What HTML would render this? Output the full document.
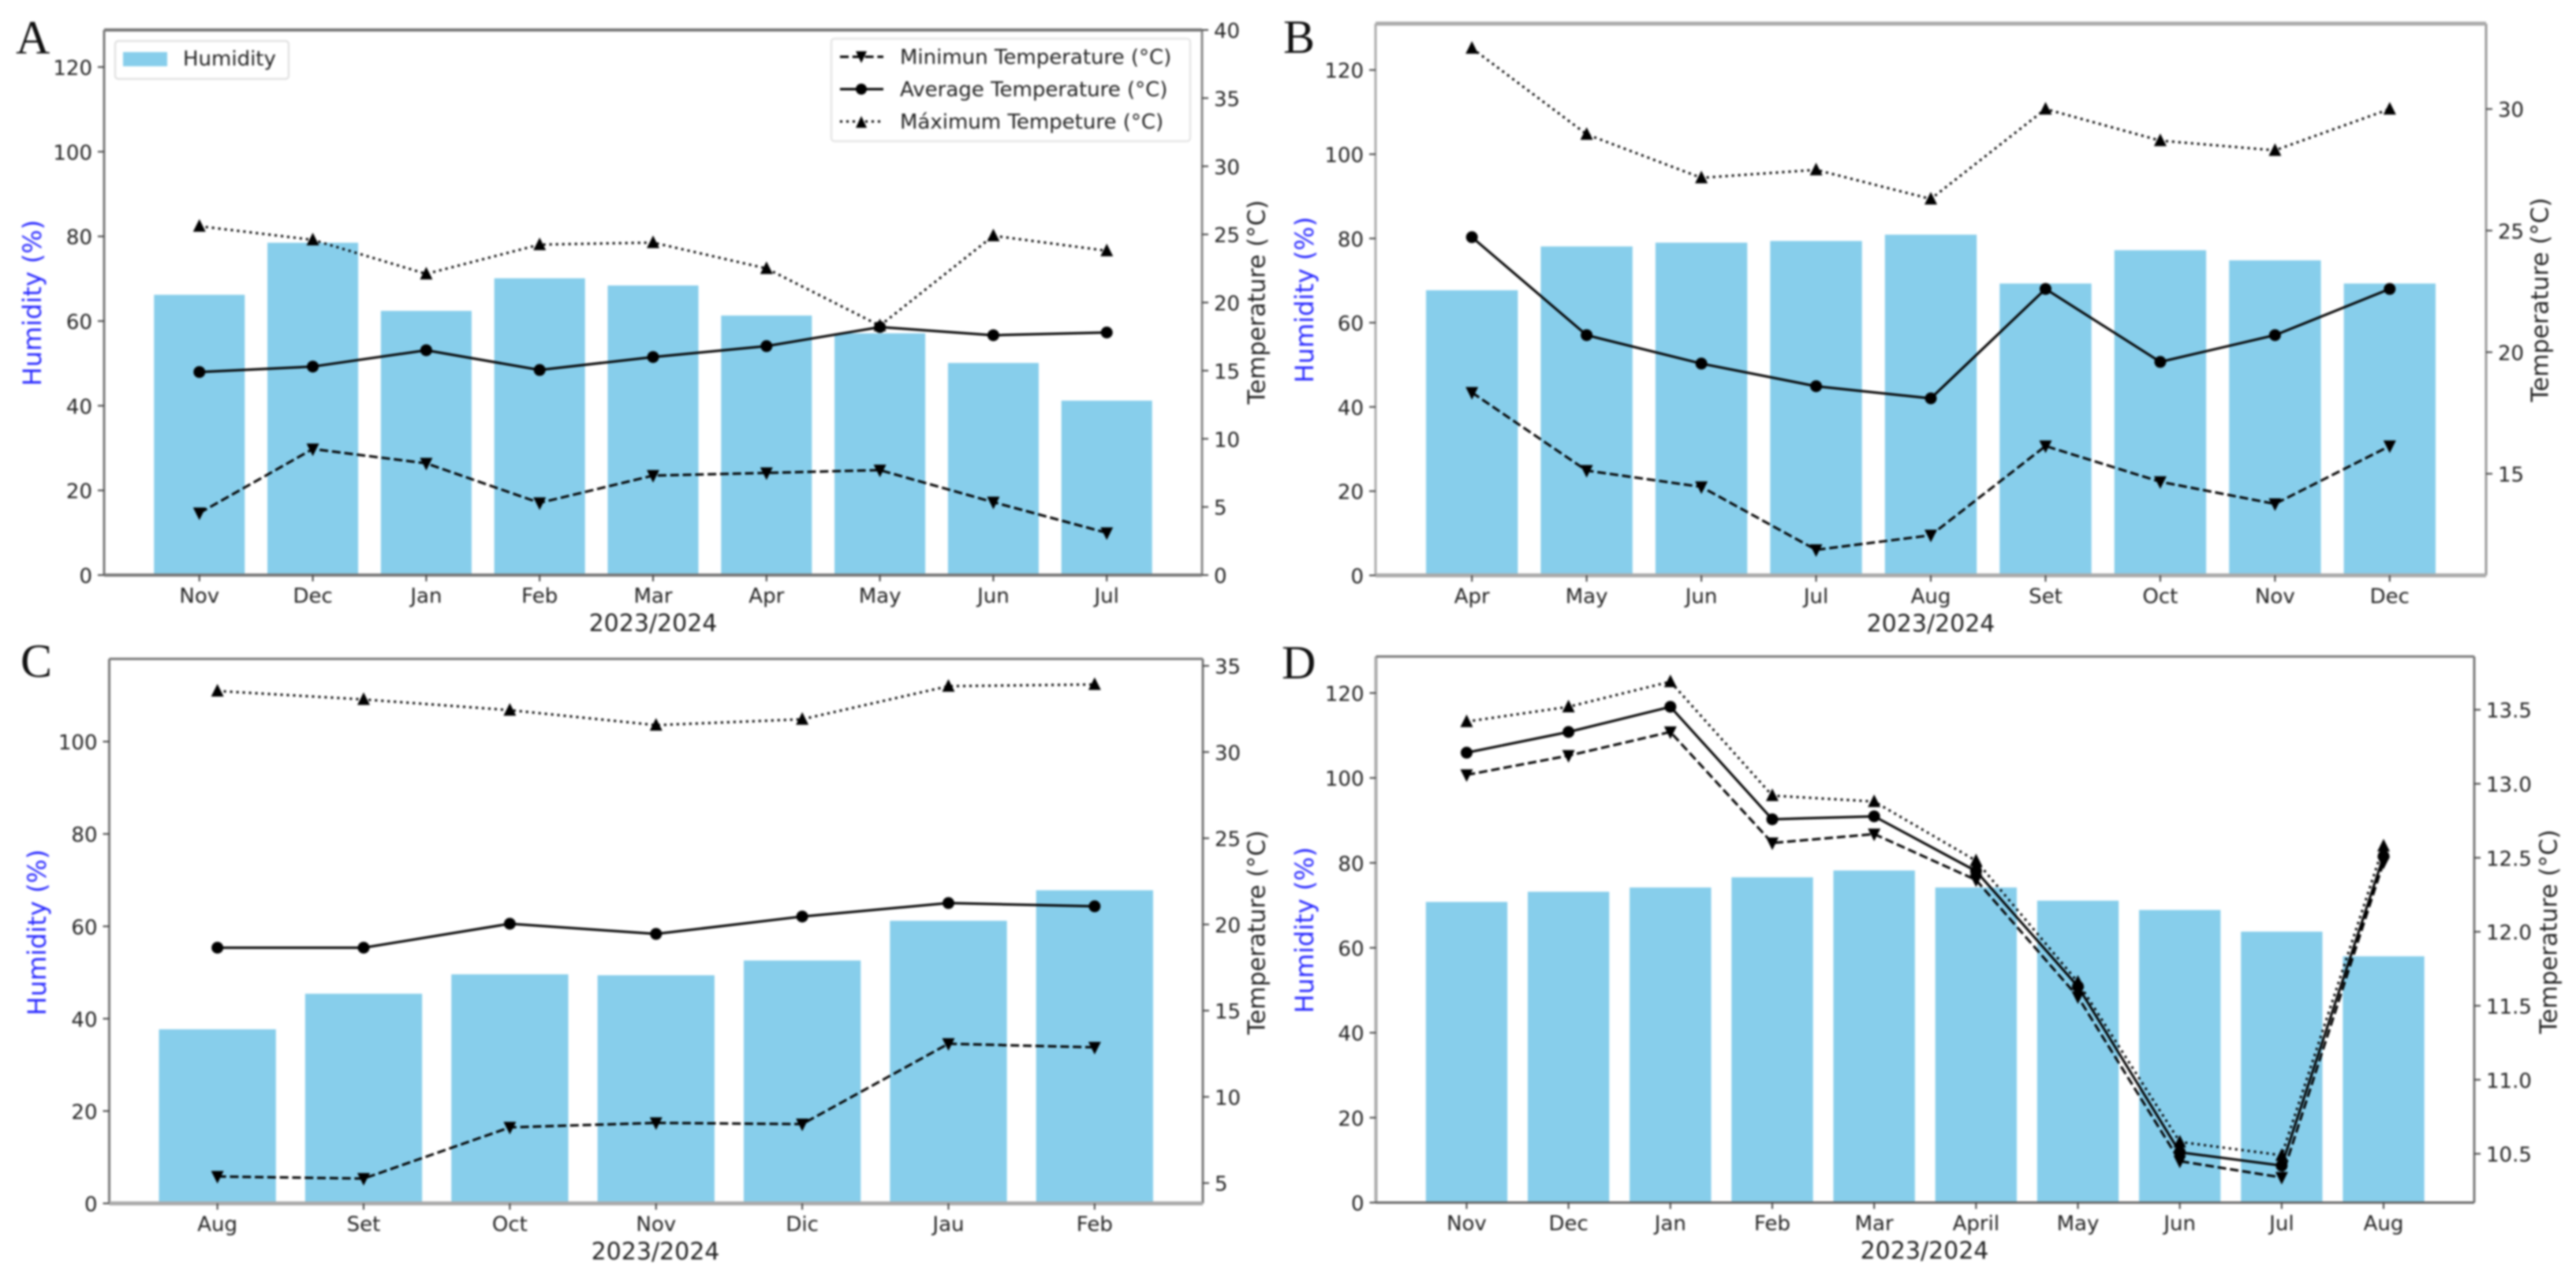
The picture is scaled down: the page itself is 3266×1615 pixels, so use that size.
<!DOCTYPE html>
<html>
<head>
<meta charset="utf-8">
<title>Humidity and temperature panels</title>
<style>
html,body{margin:0;padding:0;background:#fff;width:3266px;height:1615px;overflow:hidden}
svg{display:block;filter:blur(1.2px)}
text{font-family:"DejaVu Sans","Liberation Sans",sans-serif;fill:#222}
.tick{font-size:26px}
.axis{font-size:30px}
.leg{font-size:26px}
.letter{font-family:"Liberation Serif",serif;font-size:60px;fill:#111}
</style>
</head>
<body>
<svg id="chart" xmlns="http://www.w3.org/2000/svg" width="3266" height="1615" viewBox="0 0 3266 1615">
  <rect width="3266" height="1615" fill="#fff"/>
  <g id="panels"></g>
  <text class="letter" x="20" y="68">A</text>
  <text class="letter" x="1627" y="67">B</text>
  <text class="letter" x="26" y="858">C</text>
  <text class="letter" x="1625" y="860">D</text>

  <g>
    <rect x="146" y="52" width="220" height="48" rx="4" fill="#fff" stroke="#e2e2e2" stroke-width="2.5"/>
    <rect x="156" y="66" width="56" height="18" fill="#87CEEB"/>
    <text class="leg" x="232" y="83">Humidity</text>
  </g>
  <g>
    <rect x="1054" y="49" width="455" height="130" rx="4" fill="#fff" stroke="#e6e6e6" stroke-width="2.5"/>
    <line x1="1065" x2="1120" y1="72" y2="72" stroke="#000" stroke-width="3" stroke-dasharray="11,4.8"/>
    <path d="M1085,65 L1099,65 L1092,80 Z" fill="#000"/>
    <text class="leg" x="1141" y="81">Minimun Temperature (°C)</text>
    <line x1="1065" x2="1120" y1="113" y2="113" stroke="#000" stroke-width="3"/>
    <circle cx="1092" cy="113" r="7" fill="#000"/>
    <text class="leg" x="1141" y="122">Average Temperature (°C)</text>
    <line x1="1065" x2="1120" y1="154" y2="154" stroke="#000" stroke-width="3" stroke-dasharray="3,5"/>
    <path d="M1085,162 L1099,162 L1092,147 Z" fill="#000"/>
    <text class="leg" x="1141" y="163">Máximum Tempeture (°C)</text>
  </g>
</svg>
<script>
// Panel A data
const aMonths = ["Nov","Dec","Jan","Feb","Mar","Apr","May","Jun","Jul"];
const aHumidity = [66.2,78.5,62.4,70.1,68.4,61.3,57.1,50.1,41.2];
const aMinTemp = [4.55,9.25,8.2,5.3,7.3,7.5,7.7,5.35,3.1];
const aAvgTemp = [14.9,15.3,16.5,15.05,16.0,16.8,18.2,17.6,17.8];
const aMaxTemp = [25.6,24.6,22.1,24.25,24.4,22.5,18.3,24.9,23.8];
const aHumTicks = [0,20,40,60,80,100,120];
const aTempTicks = ["0","5","10","15","20","25","30","35","40"];

// Panel B data
const bMonths = ["Apr","May","Jun","Jul","Aug","Set","Oct","Nov","Dec"];
const bHumidity = [67.7,78.1,79.0,79.4,80.9,69.3,77.2,74.8,69.3];
const bMinTemp = [18.34,15.13,14.46,11.87,12.47,16.14,14.67,13.76,16.14];
const bAvgTemp = [24.73,20.7,19.53,18.6,18.1,22.6,19.6,20.7,22.6];
const bMaxTemp = [32.5,28.96,27.17,27.5,26.3,30,28.7,28.3,30];
const bHumTicks = [0,20,40,60,80,100,120];
const bTempTicks = ["15","20","25","30"];

// Panel C data
const cMonths = ["Aug","Set","Oct","Nov","Dic","Jau","Feb"];
const cHumidity = [37.7,45.4,49.6,49.4,52.6,61.2,67.8];
const cMinTemp = [5.38,5.26,8.23,8.49,8.42,13.08,12.87];
const cAvgTemp = [18.65,18.65,20.04,19.45,20.46,21.24,21.05];
const cMaxTemp = [33.54,33.05,32.43,31.56,31.9,33.82,33.92];
const cHumTicks = [0,20,40,60,80,100];
const cTempTicks = ["5","10","15","20","25","30","35"];

// Panel D data
const dMonths = ["Nov","Dec","Jan","Feb","Mar","April","May","Jun","Jul","Aug"];
const dHumidity = [70.8,73.2,74.2,76.6,78.2,74.2,71.1,68.9,63.8,58.0];
const dMinTemp = [13.06,13.19,13.35,12.60,12.66,12.35,11.56,10.45,10.34,12.47];
const dAvgTemp = [13.21,13.35,13.52,12.76,12.78,12.41,11.63,10.51,10.42,12.51];
const dMaxTemp = [13.42,13.52,13.69,12.92,12.88,12.48,11.66,10.58,10.49,12.58];
const dHumTicks = [0,20,40,60,80,100,120];
const dTempTicks = ["10.5","11.0","11.5","12.0","12.5","13.0","13.5"];

const SVGNS = "http://www.w3.org/2000/svg";
const root = document.getElementById("panels");

function mk(parent, tag, attrs, txt) {
  const el = document.createElementNS(SVGNS, tag);
  for (const k in attrs) el.setAttribute(k, attrs[k]);
  if (txt !== undefined) el.textContent = txt;
  parent.appendChild(el);
  return el;
}

function drawPanel(p) {
  const g = mk(root, "g", {});
  
  

  const n = p.months.length;
  const span = (n - 1 + 0.8) * 1.1;
  const xMin = -0.4 - 0.05 * (n - 1 + 0.8);
  const xScale = i => p.left + (i - xMin) * (p.right - p.left) / span;
  const yHum = v => p.bottom - v / p.humMax * (p.bottom - p.top);
  const yTemp = v => p.bottom - (v - p.tempMin) / (p.tempMax - p.tempMin) * (p.bottom - p.top);
  const barW = 0.8 * (p.right - p.left) / span;

  // bars
  p.humidity.forEach((v, i) => {
    const bar = mk(g, "rect", {x: xScale(i) - barW / 2, y: yHum(v), width: barW, height: yHum(0) - yHum(v), fill: "#87CEEB"});
    
    
  });

  // spines
  const spines = [
    ["left-spine", p.left, p.top, p.left, p.bottom, p.leftColor, p.leftWidth],
    ["right-spine", p.right, p.top, p.right, p.bottom, p.rightColor, 3],
    ["top-spine", p.left, p.top, p.right, p.top, p.topColor, p.topWidth],
    ["bottom-spine", p.left, p.bottom, p.right, p.bottom, p.bottomColor, p.bottomWidth]
  ];
  spines.forEach(s => {
    const sp = mk(g, "line", {x1: s[1], y1: s[2], x2: s[3], y2: s[4], stroke: s[5], "stroke-width": s[6]});
    
    
  });

  // x axis
  p.months.forEach((m, i) => {
    const t = mk(g, "line", {x1: xScale(i), x2: xScale(i), y1: p.bottom, y2: p.bottom + 8, stroke: "#444", "stroke-width": 2});
    
    
    const l = mk(g, "text", {class: "tick", x: xScale(i), y: p.bottom + 35, "text-anchor": "middle"}, m);
    
    
  });
  const xt = mk(g, "text", {class: "axis", x: p.xTitleX, y: p.bottom + 71, "text-anchor": "middle"}, "2023/2024");
  
  

  // left axis
  p.humTicks.forEach(v => {
    const y = yHum(v);
    const t = mk(g, "line", {x1: p.left - 8, x2: p.left, y1: y, y2: y, stroke: "#444", "stroke-width": 2});
    
    
    const l = mk(g, "text", {class: "tick", x: p.left - 15, y: y + 10, "text-anchor": "end"}, String(v));
    
    
  });
  const yt = mk(g, "text", {class: "axis", transform: "translate(" + p.humTitleX + "," + p.humTitleY + ") rotate(-90)", "text-anchor": "middle", "dominant-baseline": "central", style: "fill:#2a2aff;font-size:32px"}, "Humidity (%)");
  
  

  // right axis
  p.tempTicks.forEach(lbl => {
    const y = yTemp(parseFloat(lbl));
    const t = mk(g, "line", {x1: p.right, x2: p.right + 8, y1: y, y2: y, stroke: "#444", "stroke-width": 2});
    
    
    const l = mk(g, "text", {class: "tick", x: p.right + 15, y: y + 10, "text-anchor": "start"}, lbl);
    
    
  });
  const rt = mk(g, "text", {class: "axis", transform: "translate(" + p.tempTitleX + "," + p.tempTitleY + ") rotate(-90)", "text-anchor": "middle", "dominant-baseline": "central"}, "Temperature (°C)");
  
  

  // series
  const series = [
    {key: "min", vals: p.minTemp, dash: "11,4.8"},
    {key: "avg", vals: p.avgTemp, dash: "none"},
    {key: "max", vals: p.maxTemp, dash: "3,5"}
  ];
  series.forEach(s => {
    const pts = s.vals.map((v, i) => xScale(i) + "," + yTemp(v)).join(" ");
    const ln = mk(g, "polyline", {points: pts, fill: "none", stroke: "#000", "stroke-width": 3, "stroke-dasharray": s.dash});
    
    
    s.vals.forEach((v, i) => {
      const x = xScale(i), y = yTemp(v);
      let m;
      if (s.key === "avg") {
        m = mk(g, "circle", {cx: x, cy: y, r: 7.5, fill: "#000"});
      } else if (s.key === "min") {
        m = mk(g, "path", {d: "M" + (x - 8) + "," + (y - 7) + " L" + (x + 8) + "," + (y - 7) + " L" + x + "," + (y + 9) + " Z", fill: "#000"});
      } else {
        m = mk(g, "path", {d: "M" + (x - 8) + "," + (y + 7) + " L" + (x + 8) + "," + (y + 7) + " L" + x + "," + (y - 9) + " Z", fill: "#000"});
      }
      
      
    });
  });
}

drawPanel({id: "a", months: aMonths, humidity: aHumidity, minTemp: aMinTemp, avgTemp: aAvgTemp, maxTemp: aMaxTemp, humTicks: aHumTicks, tempTicks: aTempTicks,
  left: 132, right: 1524, top: 38, bottom: 729, humMax: 128.75, tempMin: 0, tempMax: 40,
  leftColor: "#777", leftWidth: 3, rightColor: "#888", topColor: "#777", topWidth: 4, bottomColor: "#777", bottomWidth: 4,
  xTitleX: 828, humTitleX: 41, humTitleY: 384, tempTitleX: 1594, tempTitleY: 383});
drawPanel({id: "b", months: bMonths, humidity: bHumidity, minTemp: bMinTemp, avgTemp: bAvgTemp, maxTemp: bMaxTemp, humTicks: bHumTicks, tempTicks: bTempTicks,
  left: 1744, right: 3152, top: 30, bottom: 729.4, humMax: 131, tempMin: 10.82, tempMax: 33.51,
  leftColor: "#aaa", leftWidth: 3, rightColor: "#999", topColor: "#aaa", topWidth: 5, bottomColor: "#aaa", bottomWidth: 5,
  xTitleX: 2448, humTitleX: 1654, humTitleY: 380, tempTitleX: 3221, tempTitleY: 380});
drawPanel({id: "c", months: cMonths, humidity: cHumidity, minTemp: cMinTemp, avgTemp: cAvgTemp, maxTemp: cMaxTemp, humTicks: cHumTicks, tempTicks: cTempTicks,
  left: 138.5, right: 1525, top: 835.3, bottom: 1525.5, humMax: 117.9, tempMin: 3.82, tempMax: 35.4,
  leftColor: "#777", leftWidth: 3, rightColor: "#777", topColor: "#777", topWidth: 3, bottomColor: "#aaa", bottomWidth: 5,
  xTitleX: 831, humTitleX: 47, humTitleY: 1182, tempTitleX: 1594, tempTitleY: 1182});
drawPanel({id: "d", months: dMonths, humidity: dHumidity, minTemp: dMinTemp, avgTemp: dAvgTemp, maxTemp: dMaxTemp, humTicks: dHumTicks, tempTicks: dTempTicks,
  left: 1744.5, right: 3137, top: 832.2, bottom: 1524.5, humMax: 128.6, tempMin: 10.17, tempMax: 13.86,
  leftColor: "#aaa", leftWidth: 4, rightColor: "#777", topColor: "#777", topWidth: 3, bottomColor: "#666", bottomWidth: 3,
  xTitleX: 2440, humTitleX: 1654, humTitleY: 1179, tempTitleX: 3232, tempTitleY: 1181});
</script>
</body>
</html>
